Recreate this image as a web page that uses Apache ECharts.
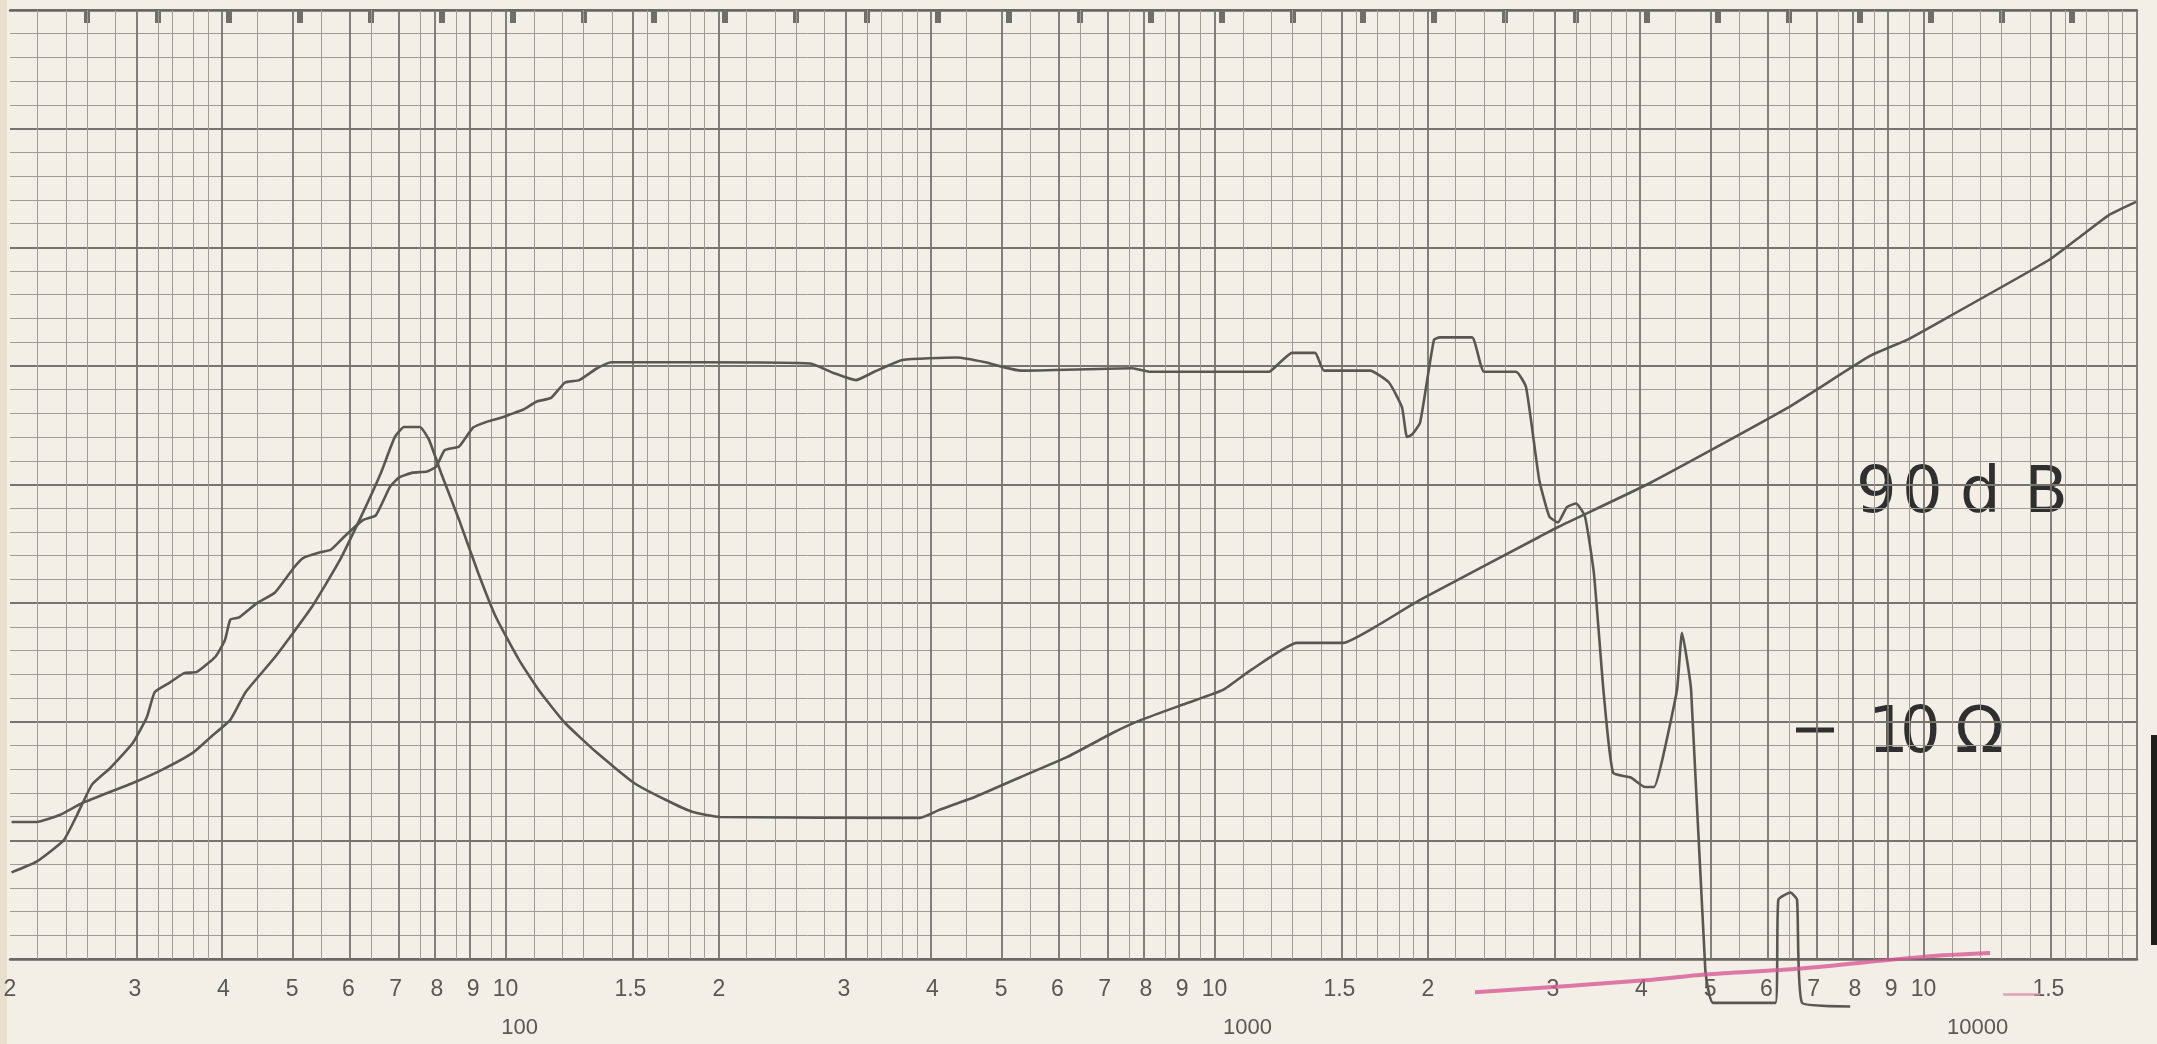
<!DOCTYPE html>
<html><head><meta charset="utf-8">
<script src="https://cdn.jsdelivr.net/npm/echarts@6/dist/echarts.min.js"></script>
<style>html,body{margin:0;padding:0;background:#f3eee6;} #c{width:2157px;height:1044px;}</style>
</head><body><div id="c"></div>
<script>
// ---- Sound pressure level trace (Hz, dB) ----
const SPL_FREQ = [20.1,21.8,23.8,24.8,26.1,27.7,29.8,31.2,32.0,33.6,35.2,36.7,39.0,40.2,40.9,42.1,44.6,47.3,50.3,51.8,54.9,56.7,59.2,62.9,65.6,68.7,70.8,74.0,77.5,79.8,82.1,86.0,90.0,94.2,98.2,101.4,105.8,110.7,115.9,121.3,127.0,134.6,140.9,188,269,290,312,331,363,433,475,503,533,765,811,1193,1232,1286,1386,1427,1657,1762,1838,1868,1898,1949,2039,2079,2307,2400,2662,2750,2870,2966,3050,3140,3236,3330,3428,3540,3648,3864,4046,4168,4288,4490,4563,4700,4922,5050,6180,6240,6490,6630,6740,7880];
const SPL_DB = [57.3,58.2,60.0,62.0,64.7,66.1,68.2,70.4,72.5,73.3,74.1,74.2,75.5,76.9,78.6,78.8,80.0,80.9,83.0,83.8,84.3,84.5,85.6,87.0,87.4,89.8,90.6,91.0,91.1,91.5,92.9,93.2,94.8,95.3,95.6,95.9,96.3,97.0,97.3,98.6,98.8,99.8,100.3,100.3,100.2,99.4,98.8,99.5,100.5,100.7,100.3,99.9,99.6,99.8,99.5,99.5,100.2,101.1,101.1,99.6,99.6,98.6,96.5,94.0,94.2,95.2,102.2,102.4,102.4,99.5,99.5,98.2,90.4,87.3,86.8,88.1,88.4,87.3,82.5,72.3,65.7,65.3,64.5,64.5,67.0,72.7,77.5,72.7,49.1,46.3,46.3,55.0,55.6,55.0,46.3,46.0];

// ---- Impedance trace (Hz, ohm) ----
const IMP_FREQ = [20.1,21.8,23.5,25.3,29.8,32.7,36.2,38.4,40.9,43.0,47.3,53.3,58.4,62.9,66.7,69.8,71.9,75.7,78.0,81.1,86.0,91.5,96.9,104.5,111.9,121.3,134.6,151.8,168.4,183.8,200.6,384,409,459,533,620,719,788,915,1028,1126,1307,1518,1684,1949,2869,3051,4113,6419,8404,9477,10046,15027,16676,18258,19940];
const IMP_OHM = [6.15,6.15,6.36,6.74,7.43,7.91,8.60,9.29,10.09,11.55,13.69,17.45,21.93,27.55,33.44,39.83,41.81,41.81,39.27,33.44,26.63,20.58,16.62,13.49,11.55,9.94,8.60,7.43,6.84,6.45,6.30,6.27,6.52,6.94,7.65,8.43,9.48,10.09,10.95,11.67,12.86,14.66,14.66,15.84,18.06,24.51,25.73,31.85,45.8,59.0,63.8,66.9,94.0,105.6,116.9,124.6];

// ---- Pink hand-drawn stroke (Hz, dB) ----
const PINK_FREQ = [2330,4046,4918,6715,10046,12410];
const PINK_DB = [47.2,48.2,48.7,49.2,50.2,50.5];
const PINK_DASH_FREQ = [12950,14600];
const PINK_DASH_DB = [47.0,47.0];

// ---- Axis tick labels ----
const TICK_FREQ = [20,30,40,50,60,70,80,90,100,150,200,300,400,500,600,700,800,900,1000,1500,2000,3000,4000,5000,6000,7000,8000,9000,10000,15000];
const TICK_LABEL = ['2','3','4','5','6','7','8','9','10','1.5','2','3','4','5','6','7','8','9','10','1.5','2','3','4','5','6','7','8','9','10','1.5'];
const DECADE_FREQ = [100,1000,10000];
const DECADE_LABEL = ['100','1000','10000'];

// ---- Chart paper rulings ----
const DECADES = [10,100,1000,10000];
const MAJOR_MANT = [1,1.5,2,3,4,5,6,7,8,9];
const MINOR_MANT = [1.1,1.2,1.3,1.4,1.6,1.7,1.8,1.9,2.2,2.4,2.6,2.8,3.2,3.4,3.6,3.8,4.5,5.5,6.5,7.5,8.5,9.5];
const F_MIN = 20, F_MAX = 20000;
const MARK_BASE = 20.4; // paper ratchet marks, every 1/10 decade
const MARK_COUNT = 29;

const lg = Math.log10;
function rulings(mants){
  const out = [];
  DECADES.forEach(d => mants.forEach(m => { const f = m*d; if (f >= F_MIN && f <= F_MAX) out.push(f); }));
  return out;
}
const majorF = rulings(MAJOR_MANT);
const minorF = rulings(MINOR_MANT);
const markVals = [];
for (let k = 1; k <= MARK_COUNT; k++) markVals.push(lg(MARK_BASE) + k/10);

const pair = (fs, vs) => fs.map((f,i) => [lg(f), vs[i]]);

const LABEL_COLOR = '#5a5754';
const FONT = 'Liberation Sans';
const DECADE_PAD = [28, 66, 108];
const rich = {};
DECADE_LABEL.forEach((s,i) => {
  rich['d'+i] = {fontSize:22, fontFamily:FONT, color:LABEL_COLOR, lineHeight:38, padding:[0,0,0,DECADE_PAD[i]]};
});

const chart = echarts.init(document.getElementById('c'), null, {renderer:'canvas'});
const MINOR_C = '#a09b94', MAJOR_C = '#77736d';

chart.setOption({
  animation:false,
  backgroundColor:'#f3eee6',
  grid:{left:10, right:20, top:10, bottom:85, outerBoundsMode:'none', containLabel:false},
  xAxis:[{
    type:'value', min:lg(F_MIN), max:lg(F_MAX), position:'bottom',
    axisLine:{show:true, lineStyle:{color:'#6a6661', width:2.5}},
    axisTick:{show:false}, splitLine:{show:false},
    axisLabel:{
      show:true, customValues: TICK_FREQ.map(lg), margin:12,
      fontSize:23, fontFamily:FONT, color:LABEL_COLOR, lineHeight:38,
      formatter:function(v){
        let best = 0, bd = 1e9;
        TICK_FREQ.forEach((f,i) => { const d = Math.abs(lg(f)-v); if (d < bd){bd = d; best = i;} });
        const f = TICK_FREQ[best];
        const j = DECADE_FREQ.indexOf(f);
        if (j >= 0) return TICK_LABEL[best] + '\n{d'+j+'|'+DECADE_LABEL[j]+'}';
        return TICK_LABEL[best];
      },
      rich: rich
    }
  },{
    type:'value', min:lg(F_MIN), max:lg(F_MAX), position:'top',
    axisLine:{show:true, lineStyle:{color:'#6a6661', width:2.5}},
    axisLabel:{show:false}, splitLine:{show:false},
    axisTick:{show:true, inside:true, length:13, customValues:markVals, lineStyle:{color:'#716d67', width:6}}
  }],
  yAxis:[{
    type:'value', min:50, max:130, interval:10,
    axisLabel:{show:false}, axisLine:{show:false}, axisTick:{show:false},
    splitLine:{show:true, lineStyle:{color:MAJOR_C, width:1.8}},
    minorTick:{show:false, splitNumber:5},
    minorSplitLine:{show:true, lineStyle:{color:MINOR_C, width:1}}
  },{
    type:'log', logBase:10, min:3.16228, max:316.228, show:false,
    splitLine:{show:false}
  }],
  series:[
    {type:'line', data:[], silent:true, z:1, xAxisIndex:0, yAxisIndex:0,
     markLine:{silent:true, symbol:['none','none'], label:{show:false}, animation:false,
       lineStyle:{color:MINOR_C, width:1, type:'solid'},
       emphasis:{disabled:true},
       data: minorF.map(f => ({xAxis: lg(f)}))}},
    {type:'line', data:[], silent:true, z:1, xAxisIndex:0, yAxisIndex:0,
     markLine:{silent:true, symbol:['none','none'], label:{show:false}, animation:false,
       lineStyle:{color:MAJOR_C, width:1.8, type:'solid'},
       emphasis:{disabled:true},
       data: majorF.map(f => ({xAxis: lg(f)}))}},
    {name:'SPL', type:'line', xAxisIndex:0, yAxisIndex:0, data: pair(SPL_FREQ, SPL_DB),
     showSymbol:false, clip:false, z:5, smooth:0.15,
     lineStyle:{color:'#5a5753', width:2.6}},
    {name:'Impedance', type:'line', xAxisIndex:0, yAxisIndex:1, data: pair(IMP_FREQ, IMP_OHM),
     showSymbol:false, clip:false, z:5, smooth:0.15,
     lineStyle:{color:'#5a5753', width:2.6}},
    {name:'pink', type:'line', xAxisIndex:0, yAxisIndex:0, data: pair(PINK_FREQ, PINK_DB),
     showSymbol:false, clip:false, z:6, smooth:0.3,
     lineStyle:{color:'#d65a96', width:4, opacity:0.8}},
    {name:'pinkdash', type:'line', xAxisIndex:0, yAxisIndex:0, data: pair(PINK_DASH_FREQ, PINK_DASH_DB),
     showSymbol:false, clip:false, z:6,
     lineStyle:{color:'#d98fb0', width:2.5, opacity:0.8}}
  ],
  graphic:[
    {type:'rect', shape:{x:0,y:0,width:7,height:1044}, style:{fill:'#e8dfcd'}, z:0, silent:true},
    {type:'rect', shape:{x:2151,y:735,width:6,height:210}, style:{fill:'#1e1e1e'}, z:0, silent:true},
    {type:'text', x:1856, y:495, style:{text:'9', font:'64px "DejaVu Sans"', fill:'#2f2f2f', verticalAlign:'middle'}},
    {type:'text', x:1902, y:495, style:{text:'0', font:'64px "DejaVu Sans"', fill:'#2f2f2f', verticalAlign:'middle'}},
    {type:'text', x:1960, y:495, style:{text:'d', font:'64px "DejaVu Sans"', fill:'#2f2f2f', verticalAlign:'middle'}},
    {type:'text', x:2024, y:495, style:{text:'B', font:'64px "DejaVu Sans"', fill:'#2f2f2f', verticalAlign:'middle'}},
    {type:'line', shape:{x1:1796,y1:730,x2:1834,y2:730}, style:{stroke:'#2f2f2f', lineWidth:5}},
    {type:'text', x:1868, y:735, style:{text:'1', font:'64px "DejaVu Sans"', fill:'#2f2f2f', verticalAlign:'middle'}},
    {type:'text', x:1900, y:735, style:{text:'0', font:'64px "DejaVu Sans"', fill:'#2f2f2f', verticalAlign:'middle'}},
    {type:'text', x:1955, y:735, style:{text:'Ω', font:'64px "DejaVu Sans"', fill:'#2f2f2f', verticalAlign:'middle'}}
  ]
});
</script>
</body></html>
